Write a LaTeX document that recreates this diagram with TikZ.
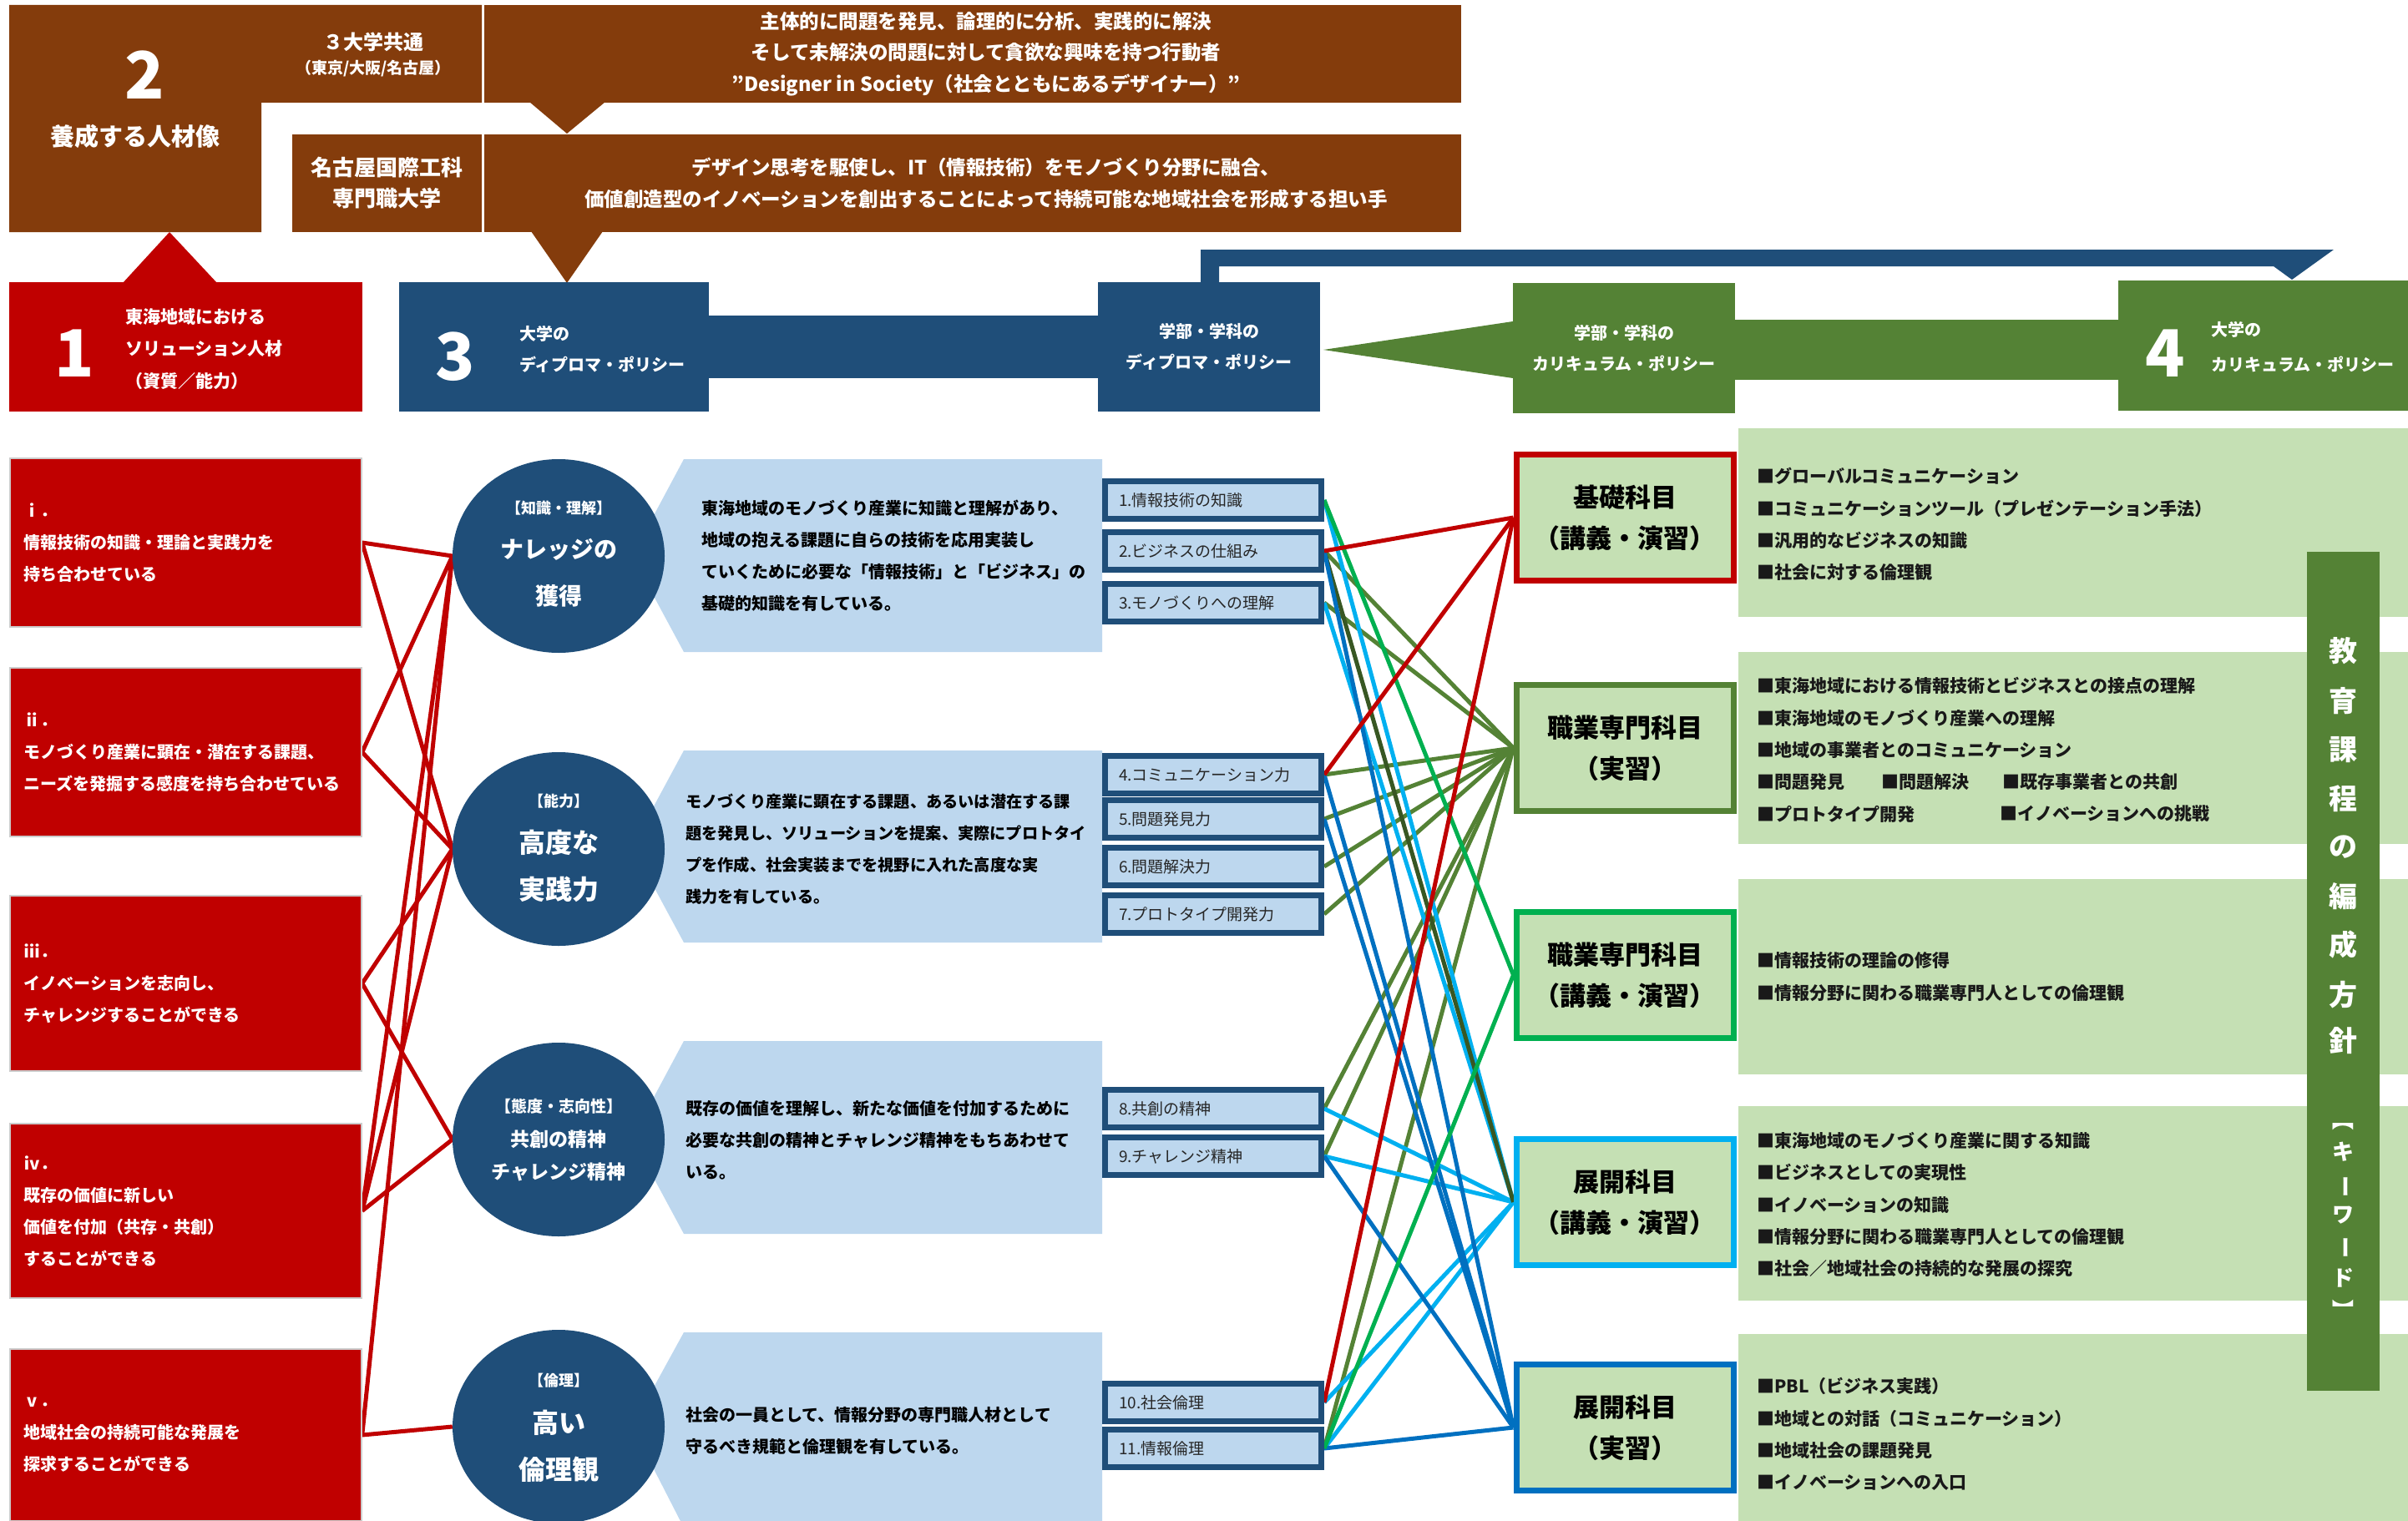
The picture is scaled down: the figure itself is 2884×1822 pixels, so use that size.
\documentclass[tikz,border=0pt]{standalone}
\usepackage{fontspec}
\setmainfont{Noto Sans CJK JP}
\usetikzlibrary{shapes.geometric,calc}
\definecolor{brownc}{HTML}{843C0C}
\definecolor{redc}{HTML}{C00000}
\definecolor{navyc}{HTML}{1F4E79}
\definecolor{olivec}{HTML}{548235}
\definecolor{greenc}{HTML}{00B050}
\definecolor{skyc}{HTML}{00B0F0}
\definecolor{bluec}{HTML}{0070C0}
\definecolor{dgreenc}{HTML}{385723}
\definecolor{paleblue}{HTML}{BDD7EE}
\definecolor{palegreen}{HTML}{C5E0B4}
\pgfdeclarelayer{background}
\pgfsetlayers{background,main}
\newcommand{\fsz}[2]{\fontsize{#1}{#2}\selectfont}

\begin{document}
\begin{tikzpicture}[
    x=1pt, y=-1pt,
    blk/.style={fill=#1, draw=none, inner sep=0pt},
    wtxt/.style={text=white, font=\bfseries\fsz{20}{38}, align=left, inner sep=0pt},
    toptxt/.style={text=white, font=\bfseries\fsz{23.5}{37.5}, align=center, inner sep=0pt},
    bignum/.style={text=white, font=\bfseries\fsz{78}{80}, inner sep=0pt},
    redbox/.style={fill=redc, draw=black!20, line width=1.5pt, minimum width=421pt,
                   text width=388pt, align=left, inner sep=0pt, text=white,
                   font=\bfseries\fsz{20}{38}},
    skill/.style={ellipse, fill=navyc, minimum width=254pt, minimum height=232pt, inner sep=0pt},
    ctxt/.style={text=white, font=\bfseries\fsz{#1}{#1}, inner sep=0pt},
    numbox/.style={draw=navyc, fill=paleblue, line width=7pt, minimum width=259pt,
                   minimum height=45pt, text width=226pt, align=left, inner sep=0pt,
                   font=\fsz{19}{21}, text=black!85},
    subj/.style={draw=#1, fill=palegreen, line width=7pt, minimum width=260pt,
                 minimum height=151pt, align=center, inner sep=0pt, font=\bfseries\fsz{31}{49}},
    desc/.style={anchor=west, font=\bfseries\fsz{20}{38}, align=left, inner sep=0pt},
    kw/.style={anchor=west, font=\bfseries\fsz{21}{38.3}, align=left, inner sep=0pt, text=black!90},
    link/.style={line width=5pt, draw=#1}
]
\useasboundingbox (0,0) rectangle (2884,1822);

% Top: human resource image
\fill[brownc] (11,6) -- (577,6) -- (577,123) -- (313,123) -- (313,278) -- (11,278) -- cycle;
\node[bignum] (two) at (173,90) {2};
\node[toptxt, font=\bfseries\fsz{29}{30}] (imgtxt) at (162,163) {養成する人材像};
\node[toptxt, font=\bfseries\fsz{24}{26}] (common) at (447,50) {３大学共通};
\node[toptxt, font=\bfseries\fsz{19}{21}] (cities) at (447,82) {（東京/大阪/名古屋）};
\node[blk=brownc, minimum width=1170pt, minimum height=117pt] (goal) at (1165,64.5) {};
\node[toptxt] (goaltxt) at (1181,64.5) {主体的に問題を発見、論理的に分析、実践的に解決\\
  そして未解決の問題に対して貪欲な興味を持つ行動者\\
  ”Designer in Society（社会とともにあるデザイナー）”};
\fill[brownc] (634,122) -- (725,122) -- (679,160) -- cycle;
\node[blk=brownc, minimum width=227pt, minimum height=117pt, toptxt, font=\bfseries\fsz{26}{37}] (nit) at (463.5,219.5) {名古屋国際工科\\専門職大学};
\node[blk=brownc, minimum width=1170pt, minimum height=117pt] (mission) at (1165,219.5) {};
\node[toptxt] (missiontxt) at (1181,219.5) {デザイン思考を駆使し、IT（情報技術）をモノづくり分野に融合、\\
  価値創造型のイノベーションを創出することによって持続可能な地域社会を形成する担い手};
\fill[brownc] (636,277) -- (722,277) -- (679,339) -- cycle;

% Second row: policies
\node[blk=redc, minimum width=423pt, minimum height=155pt] (sol) at (222.5,415.5) {};
\fill[redc] (147,339) -- (260,339) -- (203,278) -- cycle;
\node[bignum] (one) at (89,423) {1};
\node[wtxt, font=\bfseries\fsz{21}{38.5}, anchor=west] (soltxt) at (150,418) {東海地域における\\ソリューション人材\\（資質／能力）};

\node[blk=navyc, minimum width=371pt, minimum height=155pt] (udp) at (663.5,415.5) {};
\node[bignum] (three) at (545,427) {3};
\node[wtxt, font=\bfseries\fsz{20}{37}, anchor=west] (udptxt) at (622,418) {大学の\\ディプロマ・ポリシー};
\node[blk=navyc, minimum width=266pt, minimum height=155pt, wtxt, align=center, font=\bfseries\fsz{20}{37}] (ddp) at (1448,415.5) {学部・学科の\\ディプロマ・ポリシー};
\fill[navyc] ($(udp.east)+(0,-37.5)$) rectangle ($(ddp.west)+(0,37.5)$);
\fill[navyc] (1438,338) -- (1438,299) -- (2795,299) -- (2745,335) -- (2723,319) -- (1460,319) -- (1460,338) -- cycle;

\node[blk=olivec, minimum width=266pt, minimum height=156pt, wtxt, align=center, font=\bfseries\fsz{20}{37}] (dcp) at (1945,417) {学部・学科の\\カリキュラム・ポリシー};
\fill[olivec] (1585,419) -- (1812,385) -- (1812,453) -- cycle;
\node[blk=olivec, minimum width=347pt, minimum height=156pt] (ucp) at (2710.5,414) {};
\fill[olivec] ($(dcp.east)+(0,-34)$) rectangle ($(ucp.west)+(0,41)$);
\node[bignum] (four) at (2593,423) {4};
\node[wtxt, font=\bfseries\fsz{20}{42}, anchor=west] (ucptxt) at (2648,416) {大学の\\カリキュラム・ポリシー};

% Left: qualities
\node[redbox, minimum height=202pt] (r1) at (222.5,650) {ⅰ．\\情報技術の知識・理論と実践力を\\持ち合わせている};
\node[redbox, minimum height=202pt] (r2) at (222.5,901) {ⅱ．\\モノづくり産業に顕在・潜在する課題、\\ニーズを発掘する感度を持ち合わせている};
\node[redbox, minimum height=210pt] (r3) at (222.5,1178) {ⅲ．\\イノベーションを志向し、\\チャレンジすることができる};
\node[redbox, minimum height=209pt] (r4) at (222.5,1450.5) {ⅳ．\\既存の価値に新しい\\価値を付加（共存・共創）\\することができる};
\node[redbox, minimum height=206pt] (r5) at (222.5,1719) {ⅴ．\\地域社会の持続可能な発展を\\探求することができる};

% Diploma policy text panels
\foreach \t/\b/\m in {550/781/666, 899/1129/1014, 1247/1478/1363, 1596/1830/1709}
  \fill[paleblue] (819,\t) -- (1320,\t) -- (1320,\b) -- (819,\b) -- (757,\m) -- cycle;
\node[desc] (d1) at (840,666) {東海地域のモノづくり産業に知識と理解があり、\\地域の抱える課題に自らの技術を応用実装し\\ていくために必要な「情報技術」と「ビジネス」の\\基礎的知識を有している。};
\node[desc, font=\bfseries\fsz{19.2}{38}] (d2) at (821,1017) {モノづくり産業に顕在する課題、あるいは潜在する課\\題を発見し、ソリューションを提案、実際にプロトタイ\\プを作成、社会実装までを視野に入れた高度な実\\践力を有している。};
\node[desc] (d3) at (821,1366) {既存の価値を理解し、新たな価値を付加するために\\必要な共創の精神とチャレンジ精神をもちあわせて\\いる。};
\node[desc] (d4) at (821,1714) {社会の一員として、情報分野の専門職人材として\\守るべき規範と倫理観を有している。};

% Skill circles
\node[skill] (c1) at (669,666) {};
\node[skill] (c2) at (669,1017) {};
\node[skill] (c3) at (669,1365) {};
\node[skill] (c4) at (669,1709) {};
\node[ctxt=18] (c1a) at (669,609) {【知識・理解】};
\node[ctxt=28] (c1b) at (669,658) {ナレッジの};
\node[ctxt=28] (c1c) at (669,714) {獲得};
\node[ctxt=18] (c2a) at (669,960) {【能力】};
\node[ctxt=32] (c2b) at (669,1009) {高度な};
\node[ctxt=32] (c2c) at (669,1065) {実践力};
\node[ctxt=19] (c3a) at (669,1325) {【態度・志向性】};
\node[ctxt=23] (c3b) at (669,1365) {共創の精神};
\node[ctxt=23] (c3c) at (669,1404) {チャレンジ精神};
\node[ctxt=18] (c4a) at (669,1654) {【倫理】};
\node[ctxt=32] (c4b) at (669,1704) {高い};
\node[ctxt=32] (c4c) at (669,1760) {倫理観};

% Numbered competences
\foreach \i/\yy/\txt in {1/599/1.情報技術の知識, 2/660/2.ビジネスの仕組み, 3/722/3.モノづくりへの理解,
    4/928/4.コミュニケーション力, 5/981/5.問題発見力, 6/1038/6.問題解決力, 7/1095/7.プロトタイプ開発力,
    8/1328/8.共創の精神, 9/1385/9.チャレンジ精神, 10/1680/10.社会倫理, 11/1735/11.情報倫理}
  \node[numbox] (n\i) at (1453,\yy) {\txt};

% Subject groups
\node[subj=redc] (k1) at (1946,620) {基礎科目\\（講義・演習）};
\node[subj=olivec] (k2) at (1946,896) {職業専門科目\\（実習）};
\node[subj=greenc] (k3) at (1946,1168) {職業専門科目\\（講義・演習）};
\node[subj=skyc] (k4) at (1946,1440) {展開科目\\（講義・演習）};
\node[subj=bluec] (k5) at (1946,1710) {展開科目\\（実習）};

% Keyword panels
\foreach \t/\b in {513/739, 781/1011, 1053/1287, 1325/1558, 1598/1830}
  \fill[palegreen] (2082,\t) rectangle (2884,\b);
\node[kw] (p1) at (2104,628) {■グローバルコミュニケーション\\■コミュニケーションツール（プレゼンテーション手法）\\■汎用的なビジネスの知識\\■社会に対する倫理観};
\node[kw] (p2) at (2104,860) {■東海地域における情報技術とビジネスとの接点の理解\\■東海地域のモノづくり産業への理解\\■地域の事業者とのコミュニケーション};
\node[kw] (p2a) at (2104,937) {■問題発見};
\node[kw] (p2b) at (2253,937) {■問題解決};
\node[kw] (p2c) at (2398,937) {■既存事業者との共創};
\node[kw] (p2d) at (2104,975) {■プロトタイプ開発};
\node[kw] (p2e) at (2395,975) {■イノベーションへの挑戦};
\node[kw, font=\bfseries\fsz{21}{39}] (p3) at (2104,1170) {■情報技術の理論の修得\\■情報分野に関わる職業専門人としての倫理観};
\node[kw] (p4) at (2104,1443) {■東海地域のモノづくり産業に関する知識\\■ビジネスとしての実現性\\■イノベーションの知識\\■情報分野に関わる職業専門人としての倫理観\\■社会／地域社会の持続的な発展の探究};
\node[kw] (p5) at (2104,1718) {■PBL（ビジネス実践）\\■地域との対話（コミュニケーション）\\■地域社会の課題発見\\■イノベーションへの入口};

% Vertical title
\node[blk=olivec, minimum width=87pt, minimum height=1005pt] (vbar) at (2806.5,1163.5) {};
\foreach \ch/\yy in {教/780, 育/840, 課/898, 程/957, の/1015, 編/1074, 成/1132, 方/1192, 針/1247}
  \node[ctxt=34] (v\yy) at (2806,\yy) {\ch};
\foreach \ch/\yy/\rot in {【/1341/-90, キ/1380/0, ー/1421/-90, ワ/1456/0, ー/1494/-90, ド/1531/0, 】/1569/-90}
  \node[ctxt=26, rotate=\rot] (w\yy) at (2806,\yy) {\ch};

% Connectors
\begin{pgfonlayer}{background}
\foreach \a/\b in {r1/c1, r1/c2, r2/c1, r2/c2, r3/c2, r3/c3, r4/c1, r4/c2, r4/c3, r5/c1, r5/c4}
  \draw[link=redc] (\a.east) -- (\b.west);
\foreach \a in {2,3,4,5,6,7,8,9,11}
  \draw[link=olivec] (n\a.east) -- (k2.west);
\foreach \a in {1,3,8,9,10,11}
  \draw[link=skyc] (n\a.east) -- (k4.west);
\draw[link=dgreenc] (n2.east) -- (k4.west);
\foreach \a in {2,4,5,9,11}
  \draw[link=bluec] (n\a.east) -- (k5.west);
\foreach \a in {1,11}
  \draw[link=greenc] (n\a.east) -- (k3.west);
\foreach \a in {2,4,10}
  \draw[link=redc] (n\a.east) -- (k1.west);
\end{pgfonlayer}

\end{tikzpicture}
\end{document}
